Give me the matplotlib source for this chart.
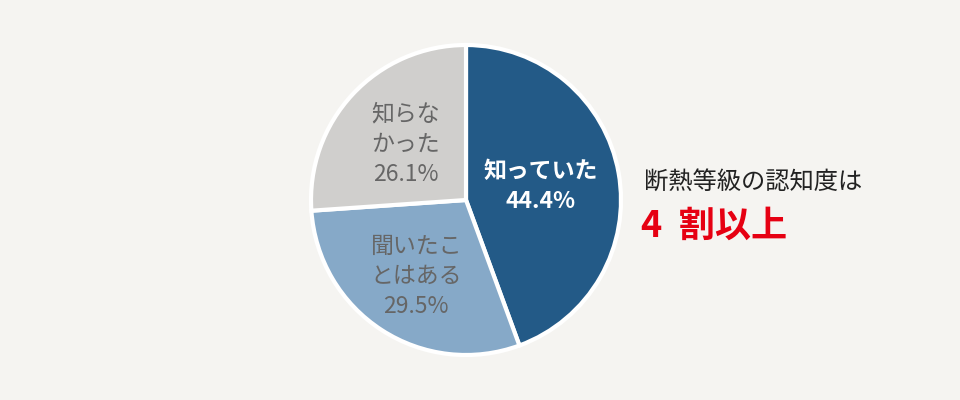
import matplotlib as mpl
mpl.use('Agg')
import numpy as np
import matplotlib.pyplot as plt

plt.rcParams['font.family'] = ['Noto Sans CJK JP', 'DejaVu Sans']

# data
labels = ["知っていた", "聞いたこ\nとはある", "知らな\nかった"]
shares = [44.4, 29.5, 26.1]
colors = ["#235a87", "#86a9c8", "#d0cfcd"]
text_colors = ["white", "#666666", "#666666"]
weights = ["bold", "normal", "normal"]
label_r = [0.49, 0.59, 0.53]

title_txt = "断熱等級の認知度は"
headline = "4  割以上"

fig = plt.figure(figsize=(9.6, 4.0), dpi=100)
fig.patch.set_facecolor("#f5f4f1")
ax = fig.add_axes([0, 0, 1, 1])
ax.axis('off')

cx, cy, R = 466, 200, 155
wedges, _ = ax.pie(shares, colors=colors, startangle=90, counterclock=False,
                   center=(cx, cy), radius=R,
                   wedgeprops=dict(edgecolor="white", linewidth=3))
ax.set_xlim(0, 960)
ax.set_ylim(0, 400)
ax.set_aspect('equal')

start = 90.0
for i, s in enumerate(shares):
    sweep = s / 100.0 * 360
    mid = np.deg2rad(start - sweep / 2)
    start -= sweep
    x = cx + label_r[i] * R * np.cos(mid)
    y = cy + label_r[i] * R * np.sin(mid)
    ax.text(x, y, labels[i] + "\n" + "{:.1f}%".format(s), ha='center', va='center',
            color=text_colors[i], fontsize=16.5, fontweight=weights[i], linespacing=1.4)

ax.text(644, 400 - 182, title_txt, ha='left', va='center', fontsize=17.5, color="#222222")
ax.text(641, 400 - 226, headline, ha='left', va='center', fontsize=26, color="#e60012",
        fontweight='bold')

plt.savefig("out.png", facecolor=fig.get_facecolor())
